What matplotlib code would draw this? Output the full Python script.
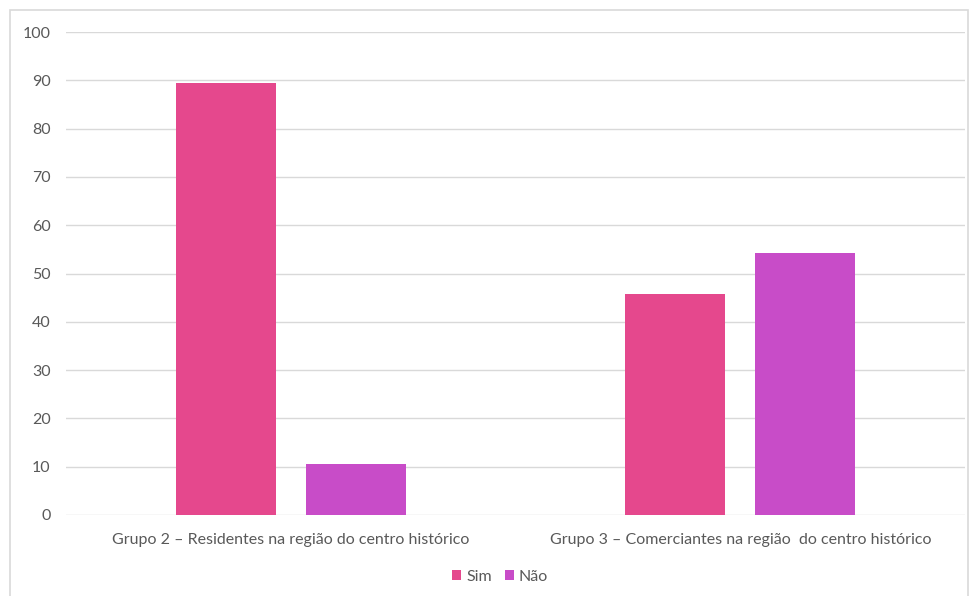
import matplotlib
matplotlib.use("Agg")
import matplotlib.pyplot as plt
import numpy as np
from matplotlib.patches import Rectangle

categories = [
    "Grupo 2 – Residentes na região do centro histórico",
    "Grupo 3 – Comerciantes na região  do centro histórico",
]
series_names = ["Sim", "Não"]
sim_values = [89.5, 45.8]
nao_values = [10.5, 54.2]
y_ticks = [0, 10, 20, 30, 40, 50, 60, 70, 80, 90, 100]

colors = ["#E5488D", "#C84CC8"]
text_color = "#595959"
grid_color = "#D9D9D9"

plt.rcParams["font.family"] = ["Lato", "DejaVu Sans"]

W, H = 971, 596
fig = plt.figure(figsize=(W / 100, H / 100), dpi=100)

# outer chart frame
fig.patches.append(Rectangle((10 / W, -0.05), (968 - 10) / W, 1 - 10 / H + 0.05,
                             transform=fig.transFigure, fill=False,
                             edgecolor="#D9D9D9", linewidth=1.2))

ax = fig.add_axes([66 / W, 1 - 515 / H, (965 - 66) / W, (515 - 32) / H])

x = np.arange(len(categories))
width = 0.222
offset = 0.1445
b1 = ax.bar(x - offset, sim_values, width, color=colors[0], label=series_names[0], zorder=3)
b2 = ax.bar(x + offset, nao_values, width, color=colors[1], label=series_names[1], zorder=3)

ax.set_xlim(-0.5, len(categories) - 0.5)
ax.set_ylim(0, 100)
ax.set_yticks(y_ticks)
ax.set_yticklabels([str(t) for t in y_ticks], color=text_color, fontsize=11.5)
ax.set_xticks(x)
ax.set_xticklabels(categories, color=text_color, fontsize=11.5)
ax.tick_params(axis="both", length=0)
ax.tick_params(axis="y", pad=11)
ax.tick_params(axis="x", pad=13)
ax.yaxis.grid(True, color=grid_color, linewidth=1, zorder=0)
for s in ax.spines.values():
    s.set_visible(False)

leg = fig.legend(handles=[b1, b2], labels=series_names, loc="center",
                 bbox_to_anchor=(500 / W, 1 - 577 / H), ncol=2, frameon=False,
                 fontsize=11.5, handlelength=0.6, handleheight=0.6,
                 handletextpad=0.3, columnspacing=0.8)
for t in leg.get_texts():
    t.set_color(text_color)

fig.savefig("out.png", dpi=100)
